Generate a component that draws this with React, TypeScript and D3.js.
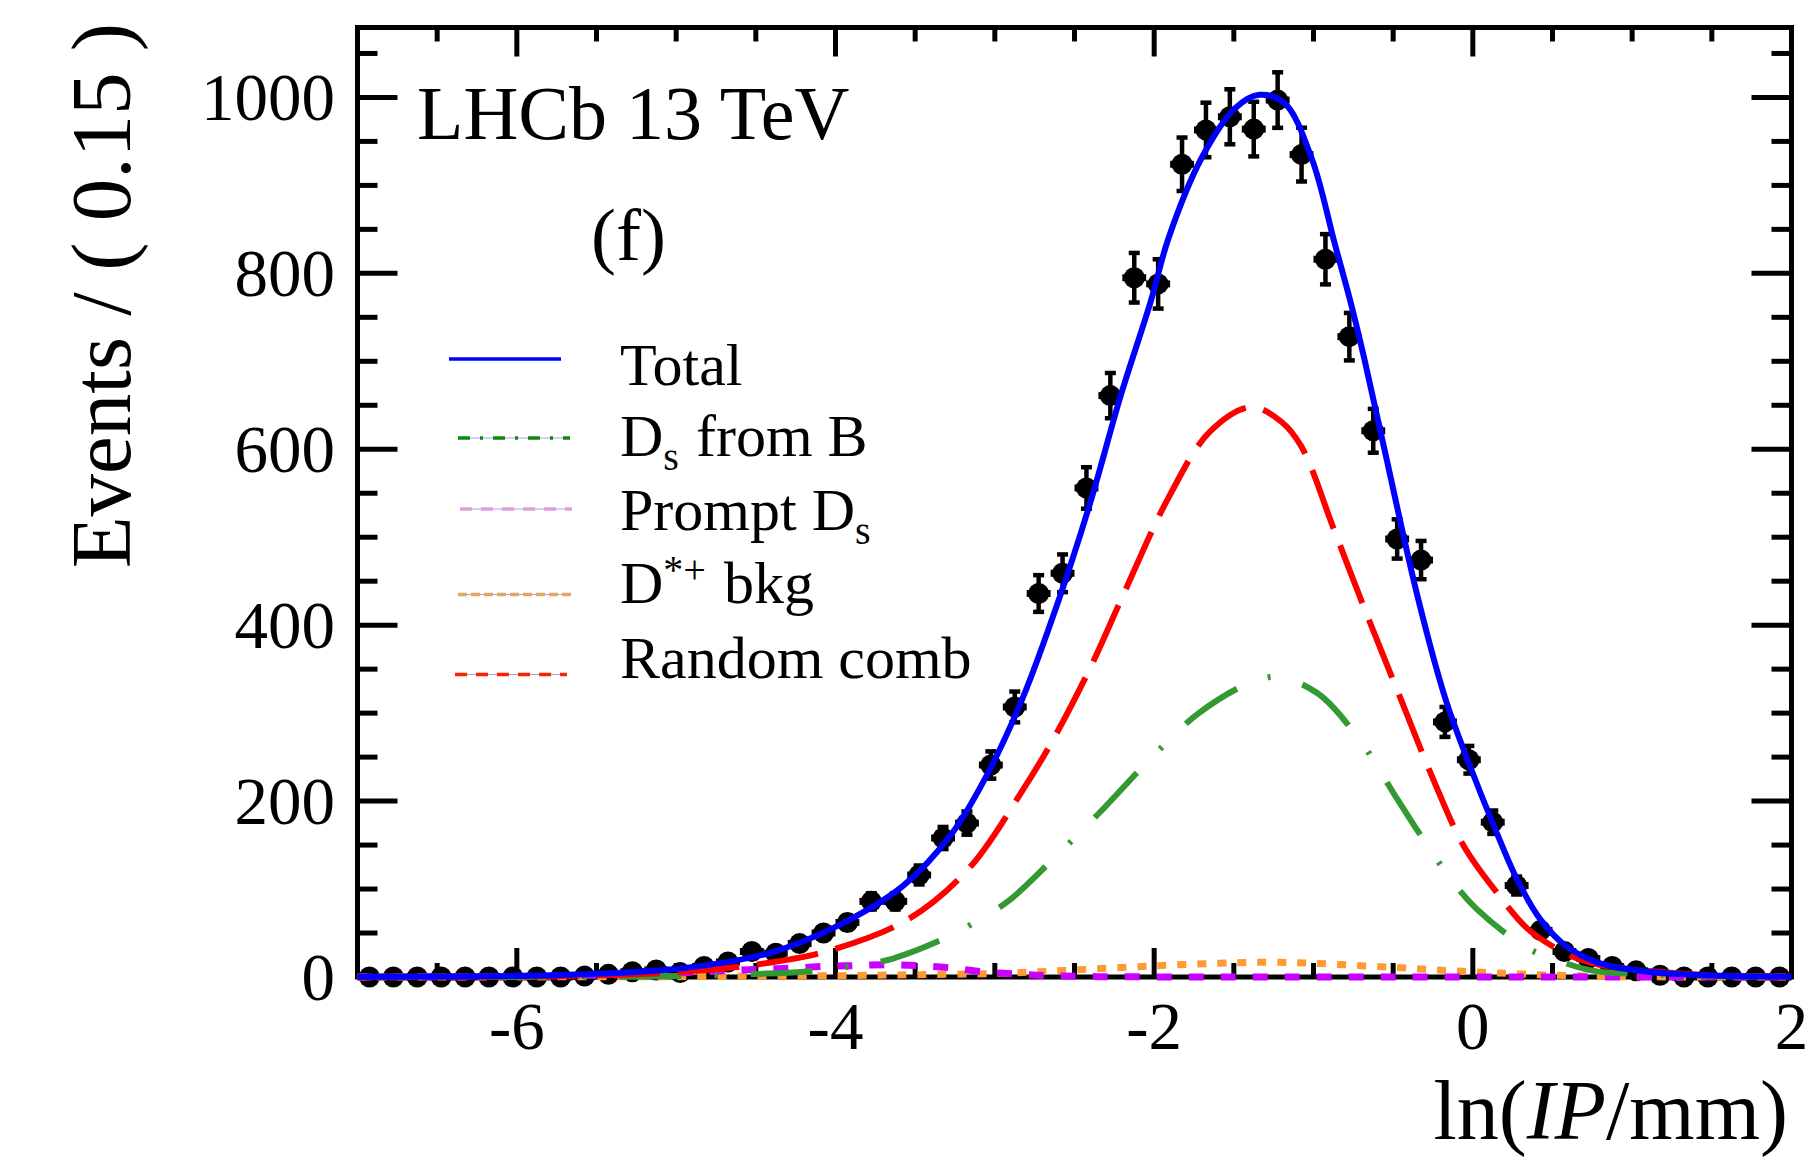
import React from 'react';
import * as d3 from 'd3';

// ---------- data ----------
const binStart = -7;
const binWidth = 0.15;
const counts = [
  0, 0, 0, 0, 0, 0, 0, 0, 0, 1,
  3, 6, 8, 5, 12, 17, 29, 27, 38, 50,
  62, 86, 86, 116, 158, 175, 241, 307, 436, 459,
  556, 661, 795, 788, 924, 963, 978, 964, 997, 935,
  816, 728, 621, 498, 474, 290, 247, 176, 104, 53,
  29, 21, 12, 7, 2, 0, 0, 0, 0, 0,
];

type Pt = [number, number];

const totalCurve: Pt[] = [
  [-7, 0.2], [-6.5, 0.5], [-6, 1.2], [-5.46, 4], [-4.96, 10], [-4.42, 27], [-4.0, 57],
  [-3.58, 103], [-3.27, 163], [-3.06, 226], [-2.83, 315], [-2.6, 428], [-2.4, 540],
  [-2.21, 661], [-2.02, 769], [-1.91, 840], [-1.70, 932], [-1.49, 988], [-1.34, 1003],
  [-1.18, 993], [-1.01, 930], [-0.867, 834], [-0.767, 767], [-0.68, 702], [-0.55, 596],
  [-0.346, 432], [-0.17, 315], [-0.012, 237], [0.134, 171], [0.28, 110], [0.426, 65],
  [0.593, 34], [0.8, 15.5], [1.01, 8], [1.28, 3.4], [1.6, 1.2], [2, 0.4],
];

const randomComb: Pt[] = [
  [-7, 0], [-6.5, 0.3], [-6, 0.8], [-5.5, 2], [-5, 5.5], [-4.5, 14],
  [-4.04, 30], [-3.54, 66], [-3.16, 124], [-2.83, 211], [-2.64, 268], [-2.4, 352],
  [-2.2, 432], [-1.91, 545], [-1.65, 620], [-1.39, 648], [-1.2, 631], [-1.076, 603],
  [-0.868, 507], [-0.7, 428], [-0.45, 315], [-0.263, 231], [-0.054, 148],
  [0.155, 95], [0.343, 55], [0.5, 35], [0.656, 21], [0.8, 13.6],
  [1.157, 6], [1.5, 2], [2, 0.5],
];

const dsFromB: Pt[] = [
  [-7, 0], [-5.5, 0.3], [-5, 1], [-4.5, 3.5], [-4.2, 6], [-3.9, 12], [-3.64, 21],
  [-3.29, 46], [-3.1, 65], [-2.91, 87], [-2.64, 133], [-2.31, 193], [-2.04, 245],
  [-1.72, 300], [-1.38, 336], [-1.22, 341], [-0.97, 322], [-0.7, 267], [-0.586, 235],
  [-0.47, 201], [-0.25, 140], [-0.125, 108], [0.02, 78], [0.33, 34], [0.53, 19],
  [0.76, 7], [1.13, 3], [1.5, 1], [2, 0.2],
];

const promptDs: Pt[] = [
  [-7, 0], [-6.5, 0.3], [-6, 0.8], [-5.5, 2], [-5.2, 3], [-4.83, 6], [-4.5, 8.5],
  [-4.29, 10], [-4.07, 12], [-3.88, 13], [-3.69, 14], [-3.48, 13], [-3.29, 10.6],
  [-3.08, 6], [-2.87, 3.4], [-2.68, 1.5], [-2.4, 0.5], [-2, 0.1], [-1, 0], [2, 0],
];

const dStarBkg: Pt[] = [
  [-7, 0], [-6, 0.1], [-5, 0.4], [-4, 1.5], [-3.5, 2.6], [-2.955, 4.2], [-2.5, 8],
  [-1.975, 12.9], [-1.485, 16.3], [-1.24, 16.8], [-0.995, 15.5], [-0.506, 11],
  [-0.015, 6], [0.475, 2.3], [0.965, 0.4], [1.5, 0.1], [2, 0],
];

const xMajorTicks = [-6, -4, -2, 0, 2];
const xMinorTicks = [-6.5, -5.5, -5, -4.5, -3.5, -3, -2.5, -1.5, -1, -0.5, 0.5, 1, 1.5];
const yMajorTicks = [0, 200, 400, 600, 800, 1000];
const yMinorTicks = [50, 100, 150, 250, 300, 350, 450, 500, 550, 650, 700, 750, 850, 900, 950, 1050];

// ---------- layout ----------
const W = 1818;
const H = 1168;
const L = 357.5, R = 1791.5, T = 27.5, B = 977;
const FONT = "'Liberation Serif', 'Times New Roman', Times, serif";

const COL_TOTAL = '#0000ff';
const COL_RAND = '#ff0000';
const COL_DSB = '#339933';
const COL_PROMPT = '#cc00ff';
const COL_DSTAR = '#ff9933';

export default function App() {
  const xs = d3.scaleLinear().domain([-7, 2]).range([L, R]);
  const ys = d3.scaleLinear().domain([0, 1079.5]).range([B, T]);
  const line = d3
    .line<Pt>()
    .x((d) => xs(d[0]))
    .y((d) => Math.min(B, ys(d[1])))
    .curve(d3.curveCatmullRom.alpha(0.5));

  const half = binWidth / 2;
  const points = counts.map((c, i) => ({ x: binStart + binWidth * (i + 0.5), c, e: Math.sqrt(c) }));

  const textX = 620;

  return (
    <svg
      width={W}
      height={H}
      style={{ position: 'absolute', left: 0, top: 0, display: 'block' }}
      fontFamily={FONT}
    >
      <rect x={0} y={0} width={W} height={H} fill="#ffffff" />
      <defs>
        <clipPath id="plotClip">
          <rect x={L} y={T} width={R - L} height={B - T + 8} />
        </clipPath>
      </defs>

      {/* frame */}
      <rect x={L} y={T} width={R - L} height={B - T} fill="none" stroke="#000" strokeWidth={5} />

      {/* ticks */}
      <g stroke="#000" strokeWidth={5}>
        {xMajorTicks.map((t) => (
          <g key={'xM' + t}>
            <line x1={xs(t)} x2={xs(t)} y1={B} y2={B - 29} />
            <line x1={xs(t)} x2={xs(t)} y1={T} y2={T + 29} />
          </g>
        ))}
        {xMinorTicks.map((t) => (
          <g key={'xm' + t}>
            <line x1={xs(t)} x2={xs(t)} y1={B} y2={B - 14} />
            <line x1={xs(t)} x2={xs(t)} y1={T} y2={T + 14} />
          </g>
        ))}
        {yMajorTicks.map((t) => (
          <g key={'yM' + t}>
            <line x1={L} x2={L + 40} y1={ys(t)} y2={ys(t)} />
            <line x1={R} x2={R - 40} y1={ys(t)} y2={ys(t)} />
          </g>
        ))}
        {yMinorTicks.map((t) => (
          <g key={'ym' + t}>
            <line x1={L} x2={L + 20} y1={ys(t)} y2={ys(t)} />
            <line x1={R} x2={R - 20} y1={ys(t)} y2={ys(t)} />
          </g>
        ))}
      </g>

      {/* tick labels */}
      <g fontSize={67} fill="#000">
        {yMajorTicks.map((t) => (
          <text key={'yl' + t} x={335} y={ys(t) + 22.5} textAnchor="end">
            {t}
          </text>
        ))}
        {xMajorTicks.map((t) => (
          <text key={'xl' + t} x={xs(t)} y={1049} textAnchor="middle">
            {t < 0 ? '-' + Math.abs(t) : String(t)}
          </text>
        ))}
      </g>

      {/* data points */}
      <g>
        {points.map((p, i) => {
          const cx = xs(p.x);
          const cy = ys(p.c);
          return (
            <g key={'p' + i}>
              <line x1={xs(p.x - half)} x2={xs(p.x + half)} y1={cy} y2={cy} stroke="#000" strokeWidth={7} />
              {p.c > 0 && (
                <g stroke="#000" strokeWidth={4.5}>
                  <line x1={cx} x2={cx} y1={ys(p.c - p.e)} y2={ys(p.c + p.e)} />
                  <line x1={cx - 5.5} x2={cx + 5.5} y1={ys(p.c + p.e)} y2={ys(p.c + p.e)} />
                  <line x1={cx - 5.5} x2={cx + 5.5} y1={ys(p.c - p.e)} y2={ys(p.c - p.e)} />
                </g>
              )}
              <circle cx={cx} cy={cy} r={10.5} fill="#000" />
            </g>
          );
        })}
      </g>

      {/* fit curves */}
      <g clipPath="url(#plotClip)" fill="none">
        <path d={line(dStarBkg) || ''} stroke={COL_DSTAR} strokeWidth={7} strokeDasharray="9,11" />
        <path d={line(promptDs) || ''} stroke={COL_PROMPT} strokeWidth={7} strokeDasharray="15,17" />
        <path d={line(dsFromB) || ''} stroke={COL_DSB} strokeWidth={6} strokeDasharray="62,33,3,33" />
        <path d={line(randomComb) || ''} stroke={COL_RAND} strokeWidth={6} strokeDasharray="62,18" />
        <path d={line(totalCurve) || ''} stroke={COL_TOTAL} strokeWidth={6} />
      </g>

      {/* axis titles */}
      <text x={1788} y={1139} fontSize={84} textAnchor="end">
        ln(<tspan fontStyle="italic">IP</tspan>/mm)
      </text>
      <text transform="translate(130,23) rotate(-90)" fontSize={85} textAnchor="end">
        Events / ( 0.15 )
      </text>

      {/* annotations */}
      <text x={417} y={139} fontSize={76}>LHCb 13 TeV</text>
      <text x={591} y={260} fontSize={75}>(f)</text>

      {/* legend */}
      <g>
        <line x1={449} x2={561} y1={359} y2={359} stroke={COL_TOTAL} strokeWidth={3.5} />

        <line x1={458} x2={570} y1={438} y2={438} stroke="#a9a0ee" strokeWidth={1.2} />
        <line x1={458} x2={570} y1={438} y2={438} stroke="#118811" strokeWidth={3.5} strokeDasharray="12,10,3,10" />

        <line x1={460} x2={572} y1={509} y2={509} stroke="#a9a0ee" strokeWidth={1.2} />
        <line x1={460} x2={572} y1={509} y2={509} stroke="#dda0dd" strokeWidth={3.5} strokeDasharray="12,9" />

        <line x1={458} x2={571} y1={594.5} y2={594.5} stroke="#a9a0ee" strokeWidth={1.2} />
        <line x1={458} x2={571} y1={594.5} y2={594.5} stroke="#e0a860" strokeWidth={3.5} strokeDasharray="9,4" />

        <line x1={455} x2={567} y1={674.5} y2={674.5} stroke="#a9a0ee" strokeWidth={1.2} />
        <line x1={455} x2={567} y1={674.5} y2={674.5} stroke="#ff2200" strokeWidth={3.5} strokeDasharray="12,9" />

        <g fontSize={60} fill="#000">
          <text x={textX} y={385}>Total</text>
          <text x={textX} y={456}>
            D<tspan fontSize={40} dy={14}>s</tspan>
            <tspan dy={-14} dx={17}>from B</tspan>
          </text>
          <text x={textX} y={530}>
            Prompt D<tspan fontSize={40} dy={14}>s</tspan>
          </text>
          <text x={textX} y={603}>
            D<tspan fontSize={40} dy={-20}>*+</tspan>
            <tspan dy={20} dx={18}>bkg</tspan>
          </text>
          <text x={textX} y={678}>Random comb</text>
        </g>
      </g>
    </svg>
  );
}
